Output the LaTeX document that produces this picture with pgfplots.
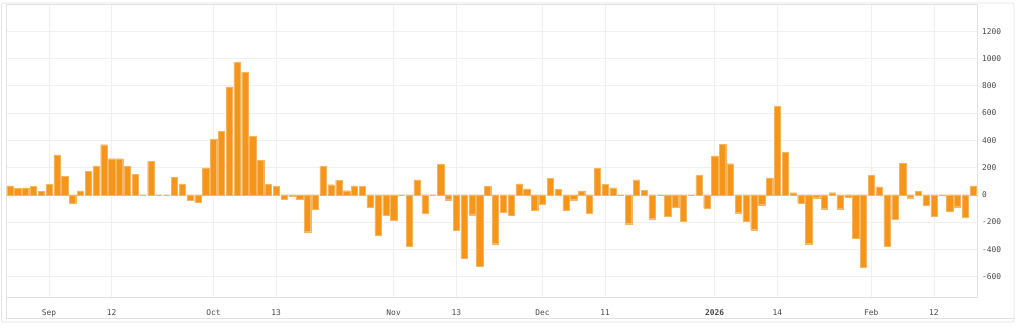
\documentclass[border=0pt]{standalone}
\usepackage{fontspec}
\setmonofont{DejaVu Sans Mono}
\usepackage{pgfplots}
\pgfplotsset{compat=1.18}
\definecolor{barc}{HTML}{F5961B}
\definecolor{gridc}{HTML}{F0F0F0}
\definecolor{framec}{HTML}{E2E2E2}
\definecolor{tickc}{HTML}{4A4A4A}
\begin{document}
\begin{tikzpicture}[x=1pt,y=1pt]
\path[use as bounding box, fill=white] (0,0) rectangle (1024,334);
\draw[framec, line width=0.8pt, rounded corners=2pt] (1.5,12) rectangle (1014,331);
\draw[framec, line width=0.6pt] (6,16) -- (1014,16);
\draw[framec, line width=0.6pt] (6,16) -- (6,37);
\begin{axis}[
  at={(6pt,37pt)}, anchor=south west,
  scale only axis, width=971pt, height=293pt,
  xmin=-0.5, xmax=123.5, ymin=-750, ymax=1400,
  axis line style={framec, line width=0.6pt},
  tick style={draw=none},
  xmajorgrids, ymajorgrids,
  major grid style={gridc, line width=0.6pt},
  ytick={-600,-400,-200,0,200,400,600,800,1000,1200},
  yticklabels={-600,-400,-200,0,200,400,600,800,1000,1200},
  yticklabel pos=right,
  yticklabel style={anchor=west, inner sep=0pt, xshift=5pt},
  xtick={5,13,26,34,49,57,68,76,90,98,110,118},
  xticklabels={Sep,12,Oct,13,Nov,13,Dec,11,\textbf{2026},14,Feb,12},
  xticklabel style={anchor=base, inner sep=0pt, yshift=-14pt},
  ticklabel style={font=\ttfamily\fontsize{7.9}{9}\selectfont, text=tickc},
  ybar, bar width=6.3pt,
]
\addplot[ybar, bar shift=0pt, fill=barc, draw=barc!70, line width=0.25pt] coordinates {
(0,65)(1,47)(2,51)(3,64)(4,25)(5,76)(6,292)(7,135)(8,-64)(9,29)
(10,171)(11,213)(12,368)(13,265)(14,265)(15,210)(16,150)(17,0)(18,245)(19,0)
(20,0)(21,128)(22,80)(23,-40)(24,-52)(25,198)(26,405)(27,465)(28,792)(29,970)
(30,900)(31,428)(32,253)(33,75)(34,60)(35,-33)(36,-8)(37,-31)(38,-271)(39,-104)
(40,210)(41,74)(42,108)(43,30)(44,66)(45,60)(46,-90)(47,-294)(48,-148)(49,-188)
(50,0)(51,-378)(52,110)(53,-132)(54,0)(55,224)(56,-36)(57,-258)(58,-465)(59,-146)
(60,-526)(61,62)(62,-359)(63,-125)(64,-150)(65,80)(66,43)(67,-116)(68,-68)(69,120)
(70,41)(71,-116)(72,-36)(73,28)(74,-135)(75,195)(76,75)(77,51)(78,0)(79,-212)
(80,110)(81,32)(82,-175)(83,-2)(84,-160)(85,-92)(86,-195)(87,-5)(88,145)(89,-100)
(90,286)(91,370)(92,228)(93,-131)(94,-195)(95,-256)(96,-73)(97,125)(98,647)(99,312)
(100,15)(101,-60)(102,-359)(103,-21)(104,-102)(105,15)(106,-102)(107,-15)(108,-320)(109,-531)
(110,141)(111,58)(112,-375)(113,-178)(114,230)(115,-21)(116,25)(117,-76)(118,-160)(119,-6)
(120,-120)(121,-87)(122,-166)(123,65)
};
\end{axis}
\end{tikzpicture}
\end{document}
